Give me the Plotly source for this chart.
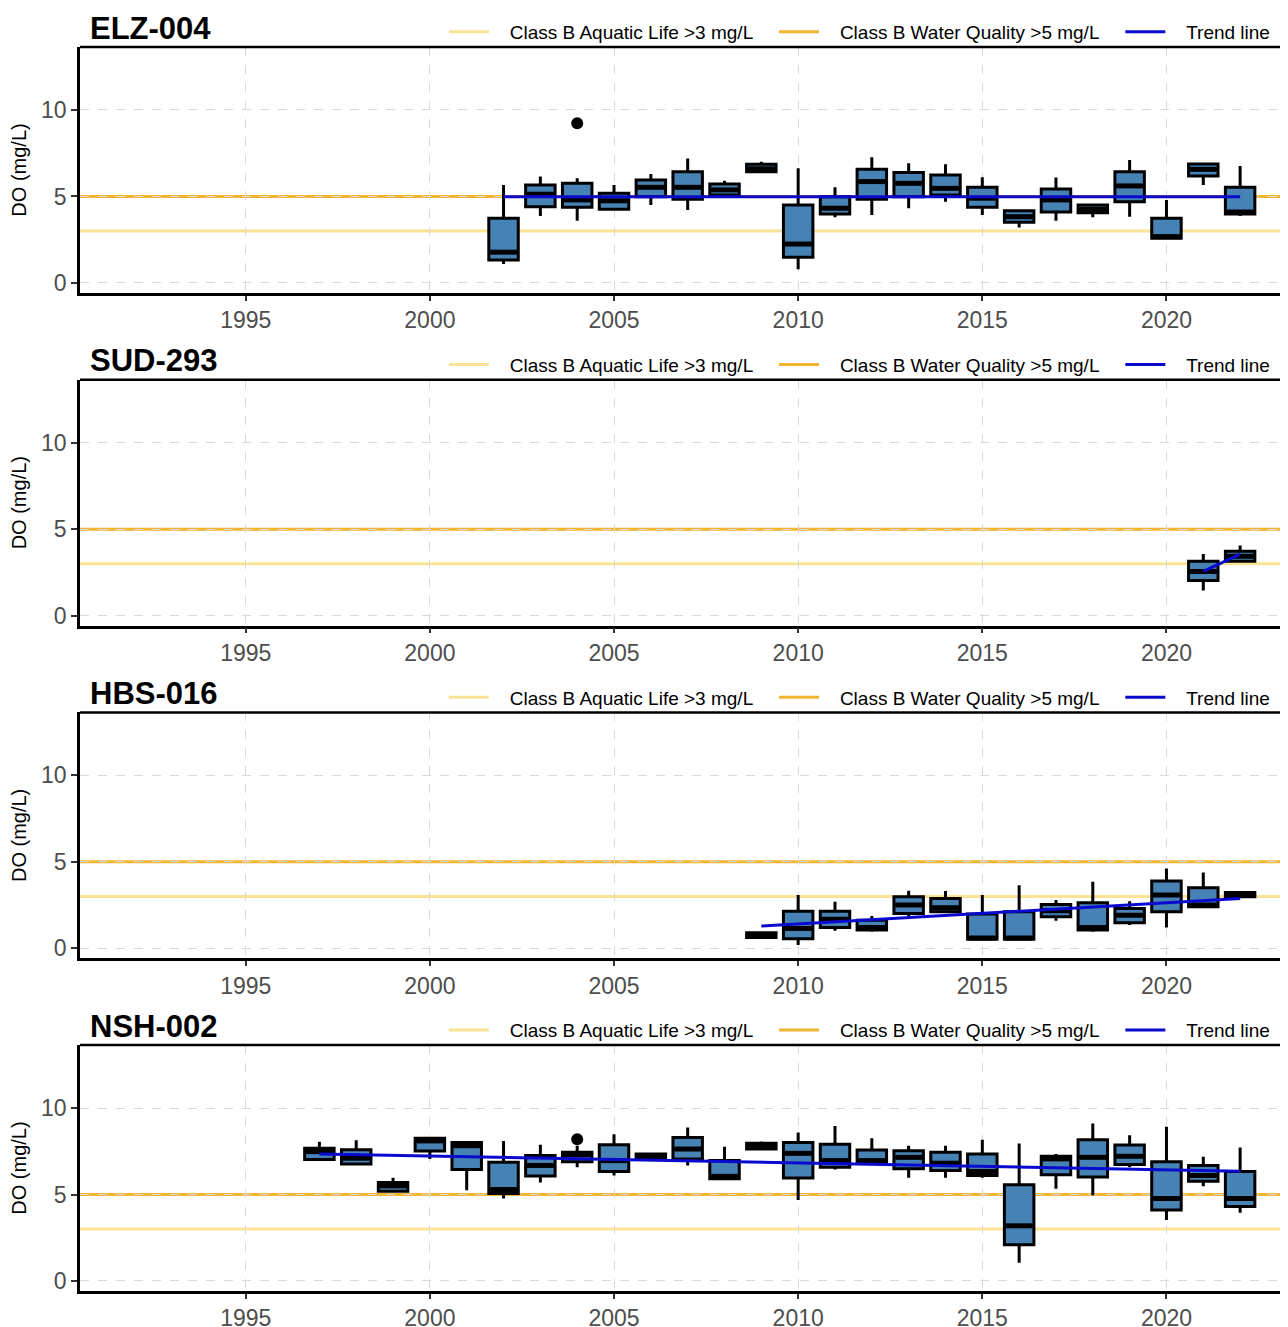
import plotly.graph_objects as go

# ---------------- data ----------------
STATIONS = ["ELZ-004", "SUD-293", "HBS-016", "NSH-002"]
X_TICKS = [1995, 2000, 2005, 2010, 2015, 2020]
Y_TICKS = [0, 5, 10]
AQUATIC_LIFE = 3
WATER_QUALITY = 5

ELZ_YEARS = list(range(2002, 2023))
ELZ_Q1 = [1.33, 4.41, 4.37, 4.26, 4.99, 4.84, 5.09, 6.43, 1.48, 3.99, 4.84, 4.99, 5.09, 4.37, 3.51, 4.10, 4.06, 4.70, 2.58, 6.18, 3.99]
ELZ_MED = [1.78, 5.13, 4.80, 4.75, 5.53, 5.53, 5.38, 6.60, 2.25, 4.32, 5.86, 5.76, 5.47, 4.90, 3.83, 4.80, 4.26, 5.61, 2.68, 6.57, 4.10]
ELZ_Q3 = [3.74, 5.66, 5.76, 5.18, 5.95, 6.43, 5.72, 6.86, 4.51, 4.99, 6.57, 6.38, 6.24, 5.53, 4.18, 5.43, 4.51, 6.43, 3.74, 6.88, 5.53]
ELZ_LO = [1.10, 3.87, 3.60, 4.20, 4.51, 4.22, 4.99, 6.43, 0.79, 3.80, 3.93, 4.32, 4.70, 3.93, 3.20, 3.60, 3.80, 3.83, 2.58, 5.66, 3.87]
ELZ_HI = [5.66, 6.15, 6.05, 5.66, 6.30, 7.20, 5.91, 7.01, 6.63, 5.53, 7.27, 6.92, 6.86, 6.11, 4.25, 6.09, 4.55, 7.11, 4.80, 6.88, 6.76]
ELZ_OUT_X = [2004]
ELZ_OUT_Y = [9.23]
ELZ_TREND_X = [2002, 2022]
ELZ_TREND_Y = [4.99, 4.99]

SUD_YEARS = [2021, 2022]
SUD_Q1 = [2.04, 3.14]
SUD_MED = [2.56, 3.43]
SUD_Q3 = [3.14, 3.72]
SUD_LO = [1.46, 3.14]
SUD_HI = [3.56, 4.06]
SUD_OUT_X = []
SUD_OUT_Y = []
SUD_TREND_X = [2021, 2022]
SUD_TREND_Y = [2.56, 3.56]

HBS_YEARS = list(range(2009, 2023))
HBS_Q1 = [0.63, 0.56, 1.21, 1.06, 2.02, 2.12, 0.52, 0.52, 1.83, 1.06, 1.48, 2.12, 2.40, 2.98]
HBS_MED = [0.77, 1.15, 1.69, 1.20, 2.50, 2.35, 0.60, 0.60, 2.17, 1.20, 1.92, 3.08, 2.50, 3.10]
HBS_Q3 = [0.90, 2.15, 2.15, 1.63, 2.98, 2.88, 1.98, 2.12, 2.54, 2.63, 2.31, 3.90, 3.50, 3.23]
HBS_LO = [0.63, 0.19, 1.02, 0.96, 1.87, 2.10, 0.52, 0.52, 1.60, 0.96, 1.35, 1.21, 2.40, 2.98]
HBS_HI = [0.90, 3.08, 2.69, 1.87, 3.33, 3.31, 3.08, 3.65, 2.79, 3.85, 2.73, 4.62, 4.38, 3.23]
HBS_OUT_X = []
HBS_OUT_Y = []
HBS_TREND_X = [2009, 2022]
HBS_TREND_Y = [1.29, 2.88]

NSH_YEARS = list(range(1997, 2023))
NSH_Q1 = [7.02, 6.77, 5.19, 7.51, 6.45, 5.06, 6.07, 6.90, 6.33, 7.06, 7.06, 5.91, 7.63, 5.95, 6.58, 6.87, 6.49, 6.39, 6.10, 2.10, 6.14, 6.01, 6.73, 4.10, 5.76, 4.30]
NSH_MED = [7.48, 7.10, 5.50, 8.10, 7.82, 5.29, 6.68, 7.30, 6.96, 7.19, 7.63, 6.05, 7.82, 7.38, 6.96, 6.96, 7.15, 6.81, 6.33, 3.19, 7.06, 7.15, 7.21, 4.77, 6.10, 4.77]
NSH_Q3 = [7.67, 7.59, 5.69, 8.26, 8.01, 6.87, 7.25, 7.44, 7.88, 7.34, 8.30, 6.96, 7.97, 8.01, 7.91, 7.57, 7.53, 7.44, 7.34, 5.57, 7.21, 8.16, 7.86, 6.90, 6.68, 6.33]
NSH_LO = [7.02, 6.68, 5.19, 7.06, 5.25, 4.77, 5.69, 6.58, 6.10, 7.06, 6.68, 5.91, 7.63, 4.68, 6.45, 6.87, 5.97, 5.97, 5.97, 1.06, 5.34, 4.96, 6.58, 3.53, 5.48, 3.95]
NSH_HI = [8.05, 8.14, 5.97, 8.26, 8.10, 8.10, 7.88, 7.82, 8.49, 7.34, 8.87, 7.76, 8.07, 8.58, 8.96, 8.26, 7.82, 7.82, 8.16, 7.95, 7.34, 9.11, 8.43, 8.92, 7.19, 7.72]
NSH_OUT_X = [2004]
NSH_OUT_Y = [8.2]
NSH_TREND_X = [1997, 2022]
NSH_TREND_Y = [7.34, 6.35]

LEGEND_NAMES = ["Class B Aquatic Life >3 mg/L", "Class B Water Quality >5 mg/L", "Trend line"]

# ---------------- styling / layout ----------------
FONT = "Liberation Sans, Arial, sans-serif"
# the html page body has an 8px margin, so the figure is offset by 8px
W, H = 1280, 1319
ML, MR, MT, MB = 72, 0, 39, 36
PANEL_H, GAP = 246, 86.7
X_RANGE = [1990.5, 2023.3]
Y_RANGE = [-0.58, 13.64]
BOX_WIDTH = 0.8
BOX_FILL = "#4682B4"
AQ_COLOR = "#FAE395"
WQ_COLOR = "#F2B431"
TREND_COLOR = "#0A0ACF"
GRID_COLOR = "#D9D9D9"
NB = "\u00a0"

panels = [
    (ELZ_YEARS, ELZ_Q1, ELZ_MED, ELZ_Q3, ELZ_LO, ELZ_HI, ELZ_OUT_X, ELZ_OUT_Y, ELZ_TREND_X, ELZ_TREND_Y),
    (SUD_YEARS, SUD_Q1, SUD_MED, SUD_Q3, SUD_LO, SUD_HI, SUD_OUT_X, SUD_OUT_Y, SUD_TREND_X, SUD_TREND_Y),
    (HBS_YEARS, HBS_Q1, HBS_MED, HBS_Q3, HBS_LO, HBS_HI, HBS_OUT_X, HBS_OUT_Y, HBS_TREND_X, HBS_TREND_Y),
    (NSH_YEARS, NSH_Q1, NSH_MED, NSH_Q3, NSH_LO, NSH_HI, NSH_OUT_X, NSH_OUT_Y, NSH_TREND_X, NSH_TREND_Y),
]


def leg_label(text, last=False):
    return NB * 3 + text + ("" if last else NB * 3)


fig = go.Figure()
plot_h = H - MT - MB
plot_w = W - ML - MR
box_px = BOX_WIDTH * plot_w / (X_RANGE[1] - X_RANGE[0])
# plotly's line-ew symbol spans 1.4 x marker size
median_size = (box_px - 3) / 1.4
layout_updates = {}
annotations = []

for i, (name, data) in enumerate(zip(STATIONS, panels)):
    years, q1, med, q3, lo, hi, ox, oy, tx, ty = data
    n = "" if i == 0 else str(i + 1)
    xa, ya = "x" + n, "y" + n
    leg = "legend" + n
    top_px = i * (PANEL_H + GAP)
    d1 = min(1.0, 1 - top_px / plot_h)
    d0 = max(0.0, 1 - (top_px + PANEL_H) / plot_h)

    fig.add_shape(type="line", xref=f"{xa} domain", yref=ya, x0=0, x1=1,
                  y0=AQUATIC_LIFE, y1=AQUATIC_LIFE, layer="below",
                  line=dict(color=AQ_COLOR, width=3),
                  showlegend=True, name=leg_label(LEGEND_NAMES[0]),
                  legend=leg, legendrank=1)
    fig.add_shape(type="line", xref=f"{xa} domain", yref=ya, x0=0, x1=1,
                  y0=WATER_QUALITY, y1=WATER_QUALITY, layer="below",
                  line=dict(color=WQ_COLOR, width=3),
                  showlegend=True, name=leg_label(LEGEND_NAMES[1]),
                  legend=leg, legendrank=2)

    fig.add_trace(go.Box(
        x=years, q1=q1, median=med, q3=q3, lowerfence=lo, upperfence=hi,
        width=BOX_WIDTH, whiskerwidth=0, fillcolor=BOX_FILL,
        line=dict(color="black", width=3), boxpoints=False,
        showlegend=False, hoverinfo="skip", xaxis=xa, yaxis=ya))
    # thicker median bar (ggplot style)
    fig.add_trace(go.Scatter(
        x=years, y=med, mode="markers",
        marker=dict(symbol="line-ew", size=median_size,
                    line=dict(color="black", width=5)),
        showlegend=False, hoverinfo="skip", xaxis=xa, yaxis=ya))
    if ox:
        fig.add_trace(go.Scatter(x=ox, y=oy, mode="markers",
                                 marker=dict(color="black", size=12),
                                 showlegend=False, xaxis=xa, yaxis=ya))
    fig.add_trace(go.Scatter(x=tx, y=ty, mode="lines",
                             line=dict(color=TREND_COLOR, width=3),
                             name=leg_label(LEGEND_NAMES[2], last=True),
                             legend=leg, legendrank=3,
                             showlegend=True, xaxis=xa, yaxis=ya))

    fig.add_shape(type="line", xref=f"{xa} domain", yref=f"{ya} domain",
                  x0=0, x1=1, y0=1, y1=1, layer="above",
                  line=dict(color="black", width=2.5))

    common = dict(
        showgrid=True, gridcolor=GRID_COLOR, griddash="dash", gridwidth=1.4,
        showline=True, linecolor="black", linewidth=2.5, mirror=False,
        ticks="outside", tickwidth=2, tickcolor="#333333",
        tickfont=dict(size=23, color="#4D4D4D", family=FONT), zeroline=False,
        automargin=False)
    layout_updates["xaxis" + n] = dict(domain=[0, 1], anchor=ya, range=X_RANGE,
                                       tickvals=X_TICKS, ticklen=5, **common)
    layout_updates["yaxis" + n] = dict(
        domain=[d0, d1], anchor=xa, range=Y_RANGE, tickvals=Y_TICKS, ticklen=6,
        title=dict(text="DO (mg/L)", font=dict(size=20, color="black", family=FONT), standoff=12),
        **common)
    layout_updates[leg] = dict(
        orientation="h", x=0.99, xanchor="right", y=d1 + 15 / plot_h, yanchor="middle",
        bgcolor="rgba(0,0,0,0)", font=dict(size=19, color="black", family=FONT),
        itemwidth=40, traceorder="normal")
    annotations.append(dict(
        text=f"<b>{name}</b>", xref="paper", yref="paper", x=0, y=d1,
        xanchor="left", yanchor="middle", xshift=8, yshift=19, showarrow=False,
        font=dict(size=31, color="black", family=FONT)))

fig.update_layout(**layout_updates)
fig.update_layout(
    width=W, height=H,
    margin=dict(l=ML, r=MR, t=MT, b=MB, autoexpand=False),
    paper_bgcolor="white", plot_bgcolor="white",
    font=dict(family=FONT), annotations=annotations, showlegend=True)

fig.write_html("out.html")
